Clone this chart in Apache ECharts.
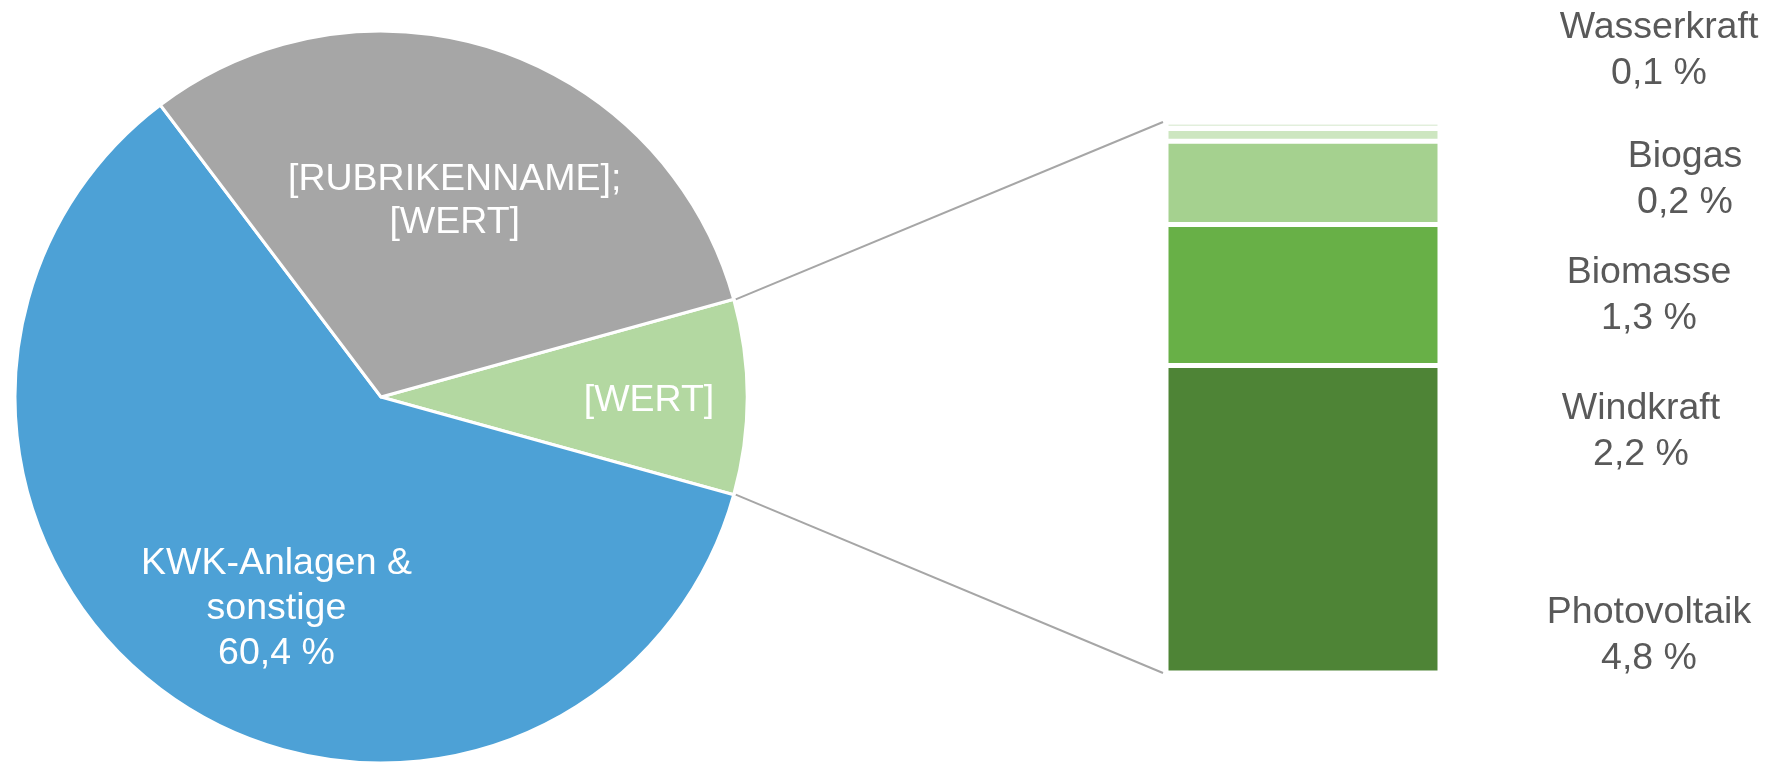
<!DOCTYPE html>
<html lang="de">
<head>
    <meta charset="UTF-8">
    <title>Stromerzeugung</title>
    <script src="https://cdn.jsdelivr.net/npm/echarts@6/dist/echarts.min.js"></script>
    <style>
        html, body { margin: 0; padding: 0; background: #fff; }
        #main { width: 1770px; height: 764px; }
    </style>
</head>
<body>
<div id="main"></div>
<script>
    // Kreis: erneuerbar (Rest als Balken), KWK, sonstige
    const pieNames = ['Erneuerbare', 'KWK-Anlagen & sonstige', 'Sonstige'];
    const pieLabels = ['[WERT]', 'KWK-Anlagen &\nsonstige\n60,4 %', '[RUBRIKENNAME];\n[WERT]'];
    const pieColors = ['#b3d8a1', '#4da1d6', '#a6a6a6'];
    const kwkValue = 60.4;
    const otherValue = 31.0;

    // Balken: von unten nach oben
    const barNames = ['Photovoltaik', 'Windkraft', 'Biomasse', 'Biogas', 'Wasserkraft'];
    const barValues = [4.8, 2.2, 1.3, 0.2, 0.1];
    const barColors = ['#4e8436', '#68b047', '#a5d18f', '#cde6c0', '#e2efdc'];

    const renewTotal = barValues.reduce((a, b) => a + b, 0);

    // Lage
    const pieCenter = [381, 397];
    const pieRadius = 366;
    const gridLeft = 1166, gridTop = 122, gridWidth = 274, gridHeight = 551;
    // labelLayout dx/dy wirkt hier doppelt, daher halbe Werte
    const pieLabelShift = [[41, 2], [0, 29], [7, -10]];
    const pieLineHeight = [44, 45, 43];
    const barLabelShift = [[346, 116], [338, 137], [346, 113], [382, 45], [356, -75]];

    const fontFamily = '"Liberation Sans", Arial, sans-serif';

    function fmt(v) {
        return v.toFixed(1).replace('.', ',') + ' %';
    }

    let myChart = echarts.init(document.getElementById('main'));

    let pieData = [renewTotal, kwkValue, otherValue].map((v, i) => ({
        name: pieNames[i],
        value: v,
        itemStyle: { color: pieColors[i] },
        label: { formatter: pieLabels[i], lineHeight: pieLineHeight[i] }
    }));

    let barSeries = barNames.map((name, i) => ({
        name: name,
        type: 'bar',
        stack: 'ee',
        barWidth: '100%',
        data: [barValues[i]],
        itemStyle: { color: barColors[i], borderColor: '#fff', borderWidth: 2.5 },
        label: {
            show: true,
            position: 'inside',
            offset: barLabelShift[i],
            color: '#595959',
            fontSize: 37.5,
            lineHeight: 46,
            fontFamily: fontFamily,
            align: 'center',
            formatter: p => p.seriesName + '\n' + fmt(p.value)
        },
        silent: true
    }));

    let option = {
        animation: false,
        backgroundColor: '#fff',
        grid: { left: gridLeft, top: gridTop, width: gridWidth, height: gridHeight },
        xAxis: { type: 'category', data: ['EE'], show: false },
        yAxis: { type: 'value', min: 0, max: renewTotal, show: false },
        series: [
            {
                type: 'pie',
                center: pieCenter,
                radius: pieRadius,
                startAngle: renewTotal / 100 * 360 / 2,
                clockwise: true,
                avoidLabelOverlap: false,
                silent: true,
                data: pieData,
                itemStyle: { borderColor: '#fff', borderWidth: 3 },
                label: {
                    show: true,
                    position: 'inside',
                    color: '#fff',
                    fontSize: 37.5,
                    overflow: 'none',
                    fontFamily: fontFamily
                },
                labelLine: { show: false },
                labelLayout: function (params) {
                    let s = pieLabelShift[params.dataIndex];
                    return { dx: s[0], dy: s[1] };
                }
            }
        ].concat(barSeries)
    };
    myChart.setOption(option);

    // Verbindungslinien vom Kreissegment zum Balken
    let half = renewTotal / 100 * Math.PI;
    let px = pieCenter[0] + pieRadius * Math.cos(half) + 2;
    let pyTop = pieCenter[1] - pieRadius * Math.sin(half);
    let pyBot = pieCenter[1] + pieRadius * Math.sin(half);
    let yTop = myChart.convertToPixel({ yAxisIndex: 0 }, renewTotal);
    let yBot = myChart.convertToPixel({ yAxisIndex: 0 }, 0);
    let lineStyle = { stroke: '#a6a6a6', lineWidth: 2 };
    myChart.setOption({
        graphic: [
            { type: 'line', shape: { x1: px, y1: pyTop, x2: gridLeft - 3, y2: yTop }, style: lineStyle, silent: true },
            { type: 'line', shape: { x1: px, y1: pyBot, x2: gridLeft - 3, y2: yBot }, style: lineStyle, silent: true }
        ]
    });
</script>
</body>
</html>
